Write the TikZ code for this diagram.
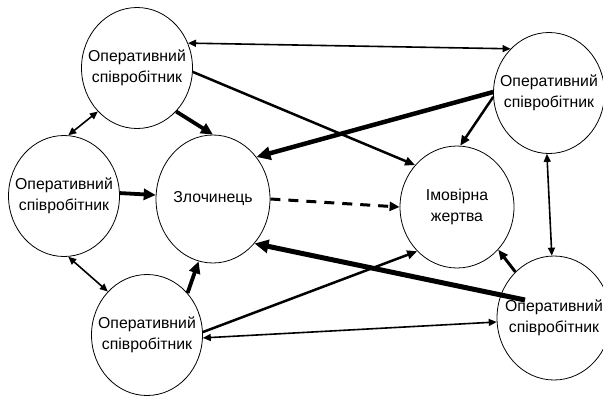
\documentclass[tikz,border=0pt]{standalone}
\usepackage{fontspec}
\setmainfont{Liberation Sans}
\usetikzlibrary{arrows.meta,shapes.geometric}
\tikzset{
    every picture/.style={line join=round},
    circ/.style={draw,ellipse,line width=0.8pt,minimum width=111pt,minimum height=121pt,
      inner xsep=-10pt,inner ysep=0pt,align=center,font=\fontsize{15.8}{21}\selectfont},
    thinlink/.style={{Triangle[length=8pt,width=7pt]}-{Triangle[length=8pt,width=7pt]},
      line width=1.6pt},
    medlink/.style={-{Triangle[length=10pt,width=8.5pt]},line width=2.5pt},
    thicklink/.style={-{Triangle[length=12pt,width=11pt]},line width=3.8pt},
    heavylink/.style={-{Triangle[length=14pt,width=13pt]},line width=5pt},
    dashlink/.style={-{Triangle[length=10pt,width=9pt]},line width=3pt,
      dash pattern=on 10pt off 8pt}
}
\begin{document}
\begin{tikzpicture}[x=1pt,y=-1pt]
  \useasboundingbox (0,0) rectangle (603,397);
  \node[circ] (o1) at (137,68) {Оперативний\\співробітник};
  \node[circ] (o2) at (64,196) {Оперативний\\співробітник};
  \node[circ] (o3) at (147,335) {Оперативний\\співробітник};
  \node[circ] (o4) at (549,93) {Оперативний\\співробітник};
  \node[circ,minimum width=114pt,minimum height=124pt] (o5) at (554,318) {Оперативний\\співробітник};
  \node[circ,minimum width=114pt,minimum height=128pt] (zl) at (213,199) {Злочинець};
  \node[circ,minimum width=114pt,minimum height=122pt] (zh) at (457,207) {Імовірна\\жертва};
  \coordinate (o5in) at (525,300);
  % links between the operatives
  \draw[thinlink] (o1.26) -- (o4.131);
  \draw[thinlink] (o1.-132) -- (o2.86);
  \draw[thinlink] (o2.-86) -- (o3.132);
  \draw[thinlink] (o5.-176) -- (o3.-3);
  \draw[thinlink] (o4.-92) -- (o5.92);
  % towards the criminal
  \draw[thicklink] (o1.-48) -- (zl.90);
  \draw[thicklink] (o2.3) -- (zl.176);
  \draw[thicklink] (o3.46) -- (zl.-103);
  \draw[heavylink,line width=4.5pt] (o4.179) -- (zl.44);
  \draw[heavylink] (o5in) -- (zl.-47);
  % towards the victim
  \draw[medlink] (o1.-4) -- (zh.135);
  \draw[medlink] (o3.3) -- (zh.-132);
  \draw[medlink] (o4.-176) -- (zh.87);
  \draw[medlink,line width=3pt] (o5.130) -- (zh.-46);
  \draw[dashlink] (zl.0) -- (zh.180);
\end{tikzpicture}
\end{document}
